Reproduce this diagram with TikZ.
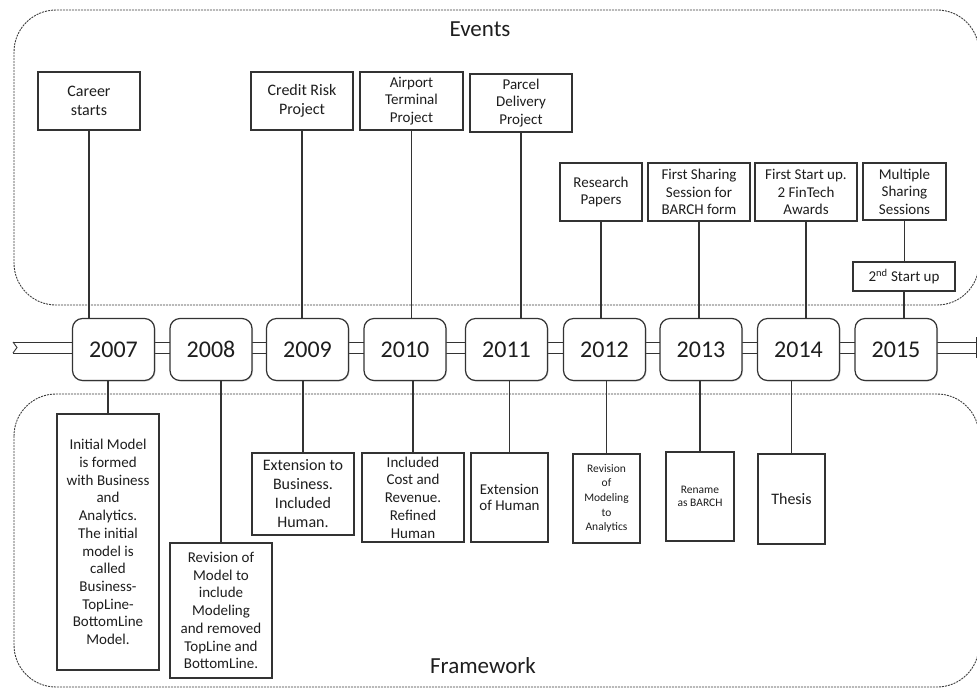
\documentclass[tikz,border=0pt]{standalone}
\usepackage{fontspec}
\setmainfont{Carlito}
\usetikzlibrary{shadows}

\definecolor{linec}{HTML}{333333}
\definecolor{textc}{HTML}{1E1E1E}
\definecolor{dashc}{HTML}{3C3C3C}

\newcommand{\fs}[2]{\fontsize{#1}{#2}\selectfont}

\tikzset{
  panel/.style={draw=dashc, line width=0.9pt, dash pattern=on 2pt off 1pt, rounded corners=42},
  boxbase/.style={draw=linec, fill=white, line width=1.2pt, inner sep=0pt, align=center,
    text=textc, drop shadow={shadow xshift=1pt, shadow yshift=-1pt, opacity=0.3}},
  evbox/.style={boxbase, minimum width=102, minimum height=58, font=\fs{15}{17.5}},
  fwbox/.style={boxbase, font=\fs{15}{17.7}},
  yearbox/.style={boxbase, rounded corners=10, minimum width=82, minimum height=62,
    text height=15, text depth=0, font=\fs{24}{26}},
  link/.style={draw=linec, line width=1.2pt},
  band/.style={draw=linec, line width=0.9pt},
  paneltitle/.style={text=textc, font=\fs{23}{26}}
}

\begin{document}
\begin{tikzpicture}[x=1pt, y=-1pt]
\useasboundingbox (0,0) rectangle (977,689);

% dashed panels
\draw[panel] (14,10) rectangle (979,305);
\draw[panel] (14,394) rectangle (979,687);
\node[paneltitle] (evtitle) at (480,29) {Events};
\node[paneltitle] (fwtitle) at (483,666) {Framework};

% timeline band
\draw[band] (13,342) -- (976,342);
\draw[band] (13,353) -- (976,353);
\draw[band] (13,342) -- (17,347.5) -- (13,353);
\draw[band] (976,337) -- (976,358);

% year boxes
\node[yearbox] (y1) at (113.5,349.5) {2007};
\node[yearbox] (y2) at (211,349.5) {2008};
\node[yearbox] (y3) at (307.5,349.5) {2009};
\node[yearbox] (y4) at (405,349.5) {2010};
\node[yearbox] (y5) at (506.5,349.5) {2011};
\node[yearbox] (y6) at (604.5,349.5) {2012};
\node[yearbox] (y7) at (701,349.5) {2013};
\node[yearbox] (y8) at (798.5,349.5) {2014};
\node[yearbox] (y9) at (896,349.5) {2015};

% events
\node[evbox, font=\fs{16}{19}] (e1) at (89,101) {Career\\starts};
\node[evbox, font=\fs{16}{19}] (e2) at (302,101) {Credit Risk\\Project};
\node[evbox, minimum width=103] (e3) at (411.5,101) {Airport\\Terminal\\Project};
\node[evbox] (e4) at (521,103) {Parcel\\Delivery\\Project};
\node[evbox, minimum width=82] (e5) at (601,192) {Research\\Papers};
\node[evbox] (e6) at (699,192) {First Sharing\\Session for\\BARCH form};
\node[evbox] (e7) at (806,192) {First Start up.\\2 FinTech\\Awards};
\node[evbox, minimum width=83, minimum height=57] (e8) at (904.5,191.5) {Multiple\\Sharing\\Sessions};
\node[evbox, minimum height=29] (e9) at (904,276.5) {2\textsuperscript{nd} Start up};

% framework
\node[fwbox, minimum width=102, minimum height=256] (f1) at (108,542)
  {Initial Model\\is formed\\with Business\\and\\Analytics.\\The initial\\model is\\called\\Business-\\TopLine-\\BottomLine\\Model.};
\node[fwbox, minimum width=102, minimum height=135] (f2) at (221,610.5)
  {Revision of\\Model to\\include\\Modeling\\and removed\\TopLine and\\BottomLine.};
\node[fwbox, minimum width=102, minimum height=82, font=\fs{16}{19}] (f3) at (303,494)
  {Extension to\\Business.\\Included\\Human.};
\node[fwbox, minimum width=102, minimum height=89] (f4) at (413,497.5)
  {Included\\Cost and\\Revenue.\\Refined\\Human};
\node[fwbox, minimum width=77, minimum height=89, font=\fs{15}{16}] (f5) at (509.5,497.5)
  {Extension\\of Human};
\node[fwbox, minimum width=67, minimum height=89, font=\fs{11.5}{14.6}] (f6) at (606.5,498.5)
  {Revision\\of\\Modeling\\to\\Analytics};
\node[fwbox, minimum width=68, minimum height=89, font=\fs{11.5}{13.2}] (f7) at (700,496.5)
  {Rename\\as BARCH};
\node[fwbox, minimum width=67, minimum height=90, font=\fs{16}{19}] (f8) at (791.5,499)
  {Thesis};

% connectors: events down to years
\foreach \e/\y in {e1/y1, e2/y3, e3/y4, e4/y5, e5/y6, e6/y7, e7/y8, e9/y9}
  \draw[link] (\e.south) -- (\e.south |- \y.north);
\draw[link] (e8.south) -- (e8.south |- e9.north);

% connectors: years down to framework
\foreach \f/\y in {f1/y1, f2/y2, f3/y3, f4/y4, f5/y5, f6/y6, f7/y7, f8/y8}
  \draw[link] (\f.north) -- (\f.north |- \y.south);
\end{tikzpicture}
\end{document}
